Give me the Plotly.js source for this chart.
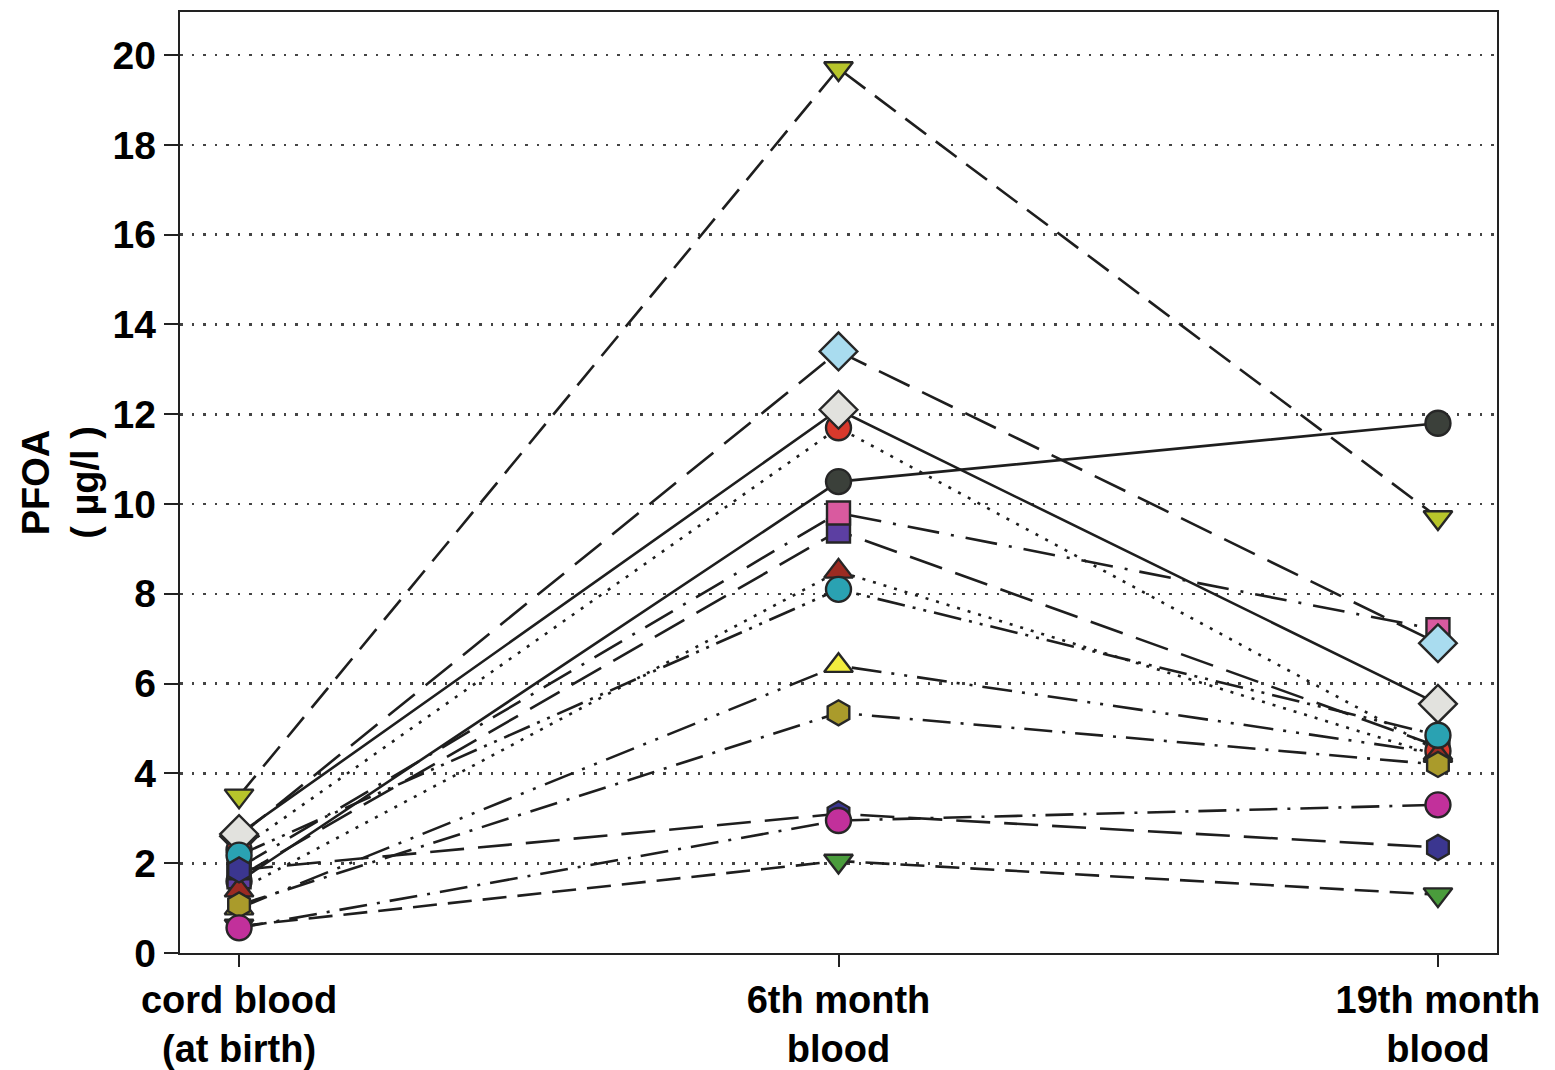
<!DOCTYPE html>
<html>
<head>
<meta charset="utf-8">
<script src="https://cdn.plot.ly/plotly-3.0.1.min.js"></script>
<style>html,body{margin:0;padding:0;background:#fff;}#chart{width:1555px;height:1070px;}</style>
</head>
<body>
<div id="chart"></div>
<script>
// Time points (x categories)
const categories = ["cord blood<br>(at birth)", "6th month<br>blood", "19th month<br>blood"];
const xPos = [0, 1, 2];

// Y tick values / labels
const yTickVals = [0, 2, 4, 6, 8, 10, 12, 14, 16, 18, 20];
const yTickText = ["0", "2", "4", "6", "8", "10", "12", "14", "16", "18", "20"];

// PFOA (µg/l) per child: [cord, 6th month, 19th month]
const childYellowGreenTri = [3.5, 19.7, 9.7];
const childLightBlueDiamond = [2.6, 13.4, 6.9];
const childGrayDiamond = [2.65, 12.1, 5.55];
const childRedCircle = [2.3, 11.7, 4.5];
const childDarkCircle = [1.6, 10.5, 11.8];
const childPinkSquare = [1.9, 9.8, 7.2];
const childPurpleSquare = [1.7, 9.4, 4.6];
const childRedTriangle = [1.4, 8.5, 4.4];
const childTealCircle = [2.18, 8.1, 4.85];
const childYellowTriangle = [1.0, 6.4, 4.45];
const childOliveHexagon = [1.07, 5.35, 4.2];
const childNavyHexagon = [1.85, 3.1, 2.35];
const childMagentaCircle = [0.56, 2.95, 3.3];
const childGreenTri = [0.6, 2.05, 1.3];

// Series in drawing order (later = on top)
const series = [
  {y: childDarkCircle, sym: "circle", color: "#3b403a", dash: "solid", size: 25},
  {y: childPurpleSquare, sym: "square", color: "#5c3fa2", dash: "34px,14px", size: 23},
  {y: childPinkSquare, sym: "square", color: "#d95a9f", dash: "32px,12px,3px,12px", size: 23},
  {y: childLightBlueDiamond, sym: "diamond", color: "#a9dcef", dash: "34px,14px", size: 29},
  {y: childYellowTriangle, sym: "triangle-up", color: "#f2ec3e", dash: "30px,10px,3px,10px,3px,10px", size: 25},
  {y: childRedCircle, sym: "circle", color: "#d8392c", dash: "3px,8px", size: 25},
  {y: childGreenTri, sym: "triangle-down", color: "#4a9c3c", dash: "24px,11px", size: 25},
  {y: childYellowGreenTri, sym: "triangle-down", color: "#b7c52b", dash: "26px,12px", size: 25},
  {y: childGrayDiamond, sym: "diamond", color: "#e2e2de", dash: "solid", size: 29},
  {y: childRedTriangle, sym: "triangle-up", color: "#9c2b22", dash: "3px,8px", size: 25},
  {y: childTealCircle, sym: "circle", color: "#2aa2b2", dash: "28px,8px,3px,8px,3px,8px", size: 25},
  {y: childNavyHexagon, sym: "hexagon", color: "#3b3690", dash: "34px,14px", size: 25},
  {y: childOliveHexagon, sym: "hexagon", color: "#aa9b2b", dash: "28px,10px,3px,10px", size: 25},
  {y: childMagentaCircle, sym: "circle", color: "#c2309b", dash: "28px,10px,3px,10px", size: 25}
];

const traces = [];
series.forEach(s => {
  traces.push({
    x: xPos, y: s.y, type: "scatter", mode: "lines", showlegend: false, hoverinfo: "skip",
    line: {color: "#1e1e1e", width: 2.6, dash: s.dash}
  });
});
series.forEach(s => {
  traces.push({
    x: xPos, y: s.y, type: "scatter", mode: "markers", showlegend: false,
    marker: {symbol: s.sym, size: s.size, color: s.color, line: {color: "#262626", width: 2.4}}
  });
});

const layout = {
  width: 1555, height: 1070,
  margin: {l: 180, r: 58, t: 12, b: 117},
  paper_bgcolor: "#ffffff", plot_bgcolor: "#ffffff",
  font: {family: "Liberation Sans, Arial, sans-serif", color: "#000"},
  xaxis: {
    range: [-0.0985, 2.0985], tickvals: xPos, ticktext: categories,
    showgrid: false, zeroline: false, showline: true, mirror: true,
    linecolor: "#222", linewidth: 2.2, ticks: "outside", ticklen: 12, tickwidth: 2, tickcolor: "#222",
    tickfont: {size: 38, weight: "bold", color: "#000"}
  },
  yaxis: {
    range: [0, 20.96], tickvals: yTickVals, ticktext: yTickText,
    showgrid: true, gridcolor: "#444", griddash: "2.5px,9px", gridwidth: 2.6,
    zeroline: false, showline: true, mirror: true,
    linecolor: "#222", linewidth: 2.2, ticks: "outside", ticklen: 14, tickwidth: 2, tickcolor: "#222",
    tickfont: {size: 39, weight: "bold", color: "#000"},
    title: {text: "PFOA<br>( µg/l )", font: {size: 38, weight: "bold", color: "#000"}, standoff: 2}
  }
};

Plotly.newPlot("chart", traces, layout, {displayModeBar: false, staticPlot: true});
</script>
</body>
</html>
